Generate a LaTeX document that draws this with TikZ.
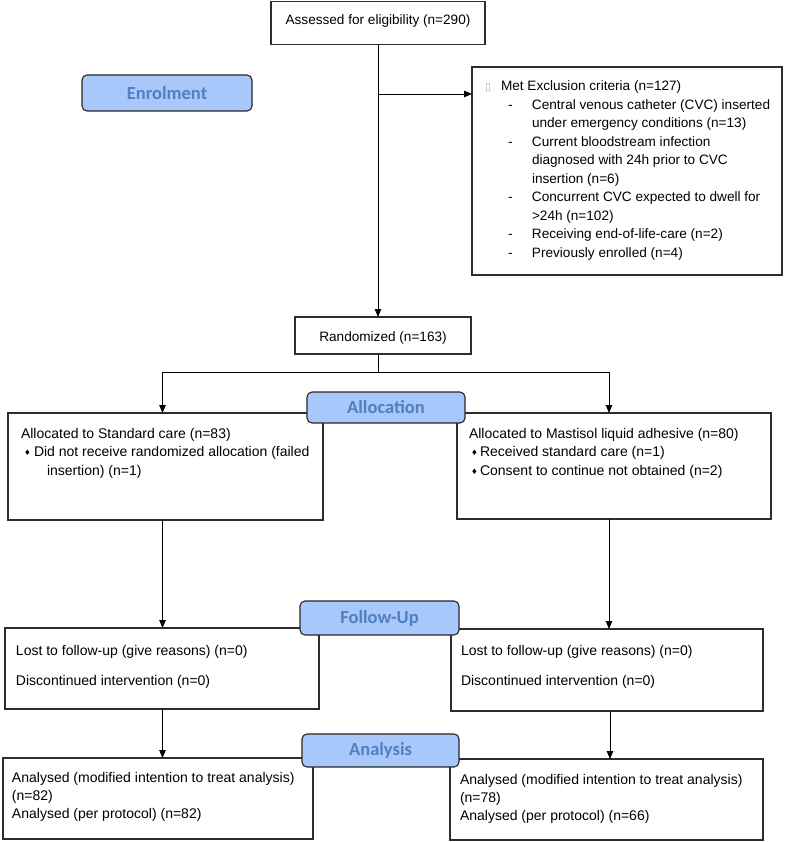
\documentclass[tikz,border=0pt]{standalone}
\usepackage{fontspec}
\setmainfont{Liberation Sans}
\newfontfamily\labfont{Carlito}
\newfontfamily\djv{DejaVu Sans}
\usetikzlibrary{arrows.meta}
\definecolor{labfill}{RGB}{168,199,250}
\definecolor{labtext}{RGB}{80,128,190}
\definecolor{boxline}{RGB}{45,45,45}
\newcommand{\dmd}[1]{\makebox[#1][l]{\raisebox{0.6pt}{\djv\fontsize{7.5}{7.5}\selectfont ♦}}}
\begin{document}
\begin{tikzpicture}[x=1pt,y=-1pt,
  every node/.style={inner sep=0pt, outer sep=0pt},
  flowbox/.style={draw=boxline, line width=1.1pt, fill=white, anchor=north west},
  lab/.style={draw=black!85, line width=1.1pt, fill=labfill, rounded corners=5pt,
    anchor=north west, text=labtext, font=\labfont\bfseries\fontsize{18.5}{20}\selectfont},
  toptxt/.style={anchor=base west, font=\fontsize{13.6}{18.45}\selectfont},
  lowtxt/.style={anchor=base west, font=\fontsize{14}{18.5}\selectfont},
  conn/.style={draw=black, line width=0.9pt, -{Triangle[length=8pt,width=6.5pt]}},
  plain/.style={draw=black, line width=0.9pt}]
\useasboundingbox (0,0) rectangle (800,842);

% ---------- boxes ----------
\node[flowbox, minimum width=214pt, minimum height=43pt] (assess) at (271,1.5) {};
\node[flowbox, minimum width=310pt, minimum height=208pt] (excl) at (472,67) {};
\node[flowbox, minimum width=176pt, minimum height=37pt] (rand) at (295,317) {};
\node[flowbox, minimum width=315pt, minimum height=107pt] (allocL) at (8,413) {};
\node[flowbox, minimum width=314pt, minimum height=106pt] (allocR) at (457,413) {};
\node[flowbox, minimum width=314pt, minimum height=81pt] (fuL) at (5,628) {};
\node[flowbox, minimum width=312pt, minimum height=82pt] (fuR) at (451,629) {};
\node[flowbox, minimum width=310pt, minimum height=81pt] (anL) at (3,758) {};
\node[flowbox, minimum width=313pt, minimum height=81pt] (anR) at (450,759) {};

% ---------- connectors ----------
\coordinate (jx) at (378,94);
\coordinate (split) at (378,372);
\coordinate (cL) at (162.5,372);
\coordinate (cR) at (609,372);
\draw[conn] (assess.south) -- (assess.south |- rand.north);
\draw[conn] (jx) -- (jx -| excl.west);
\draw[plain] (assess.south |- rand.south) -- (split);
\draw[plain] (cL) -- (cR);
\draw[conn] (cL) -- (cL |- allocL.north);
\draw[conn] (cR) -- (cR |- allocR.north);
\draw[conn] (cL |- allocL.south) -- (cL |- fuL.north);
\draw[conn] (cR |- allocR.south) -- (cR |- fuR.north);
\draw[conn] (cL |- fuL.south) -- (cL |- anL.north);
\draw[conn] ([xshift=1pt]cR |- fuR.south) -- ([xshift=1pt]cR |- anR.north);

% ---------- stage labels ----------
\node[lab, minimum width=170pt, minimum height=36pt] (enrol) at (82,75) {Enrolment};
\node[lab, minimum width=158pt, minimum height=31pt] (alloc) at (307,392) {Allocation};
\node[lab, minimum width=159pt, minimum height=34pt] (fu) at (300,601) {Follow-Up};
\node[lab, minimum width=157pt, minimum height=33pt] (an) at (302,734) {Analysis};

% ---------- texts ----------
\node[toptxt, anchor=base] (assesst) at (378,25) {Assessed for eligibility (n=290)};
\node[toptxt, anchor=base] (randt) at (383,341) {Randomized (n=163)};
\node[toptxt] (exclt) at (485,91) {\parbox[t]{295pt}{%
\makebox[16pt][l]{\raisebox{0pt}{\djv\color{black!30}\fontsize{11}{11}\selectfont ▯}}Met Exclusion criteria (n=127)\\
\hspace*{23pt}\makebox[24pt][l]{-}Central venous catheter (CVC) inserted\\
\hspace*{47pt}under emergency conditions (n=13)\\
\hspace*{23pt}\makebox[24pt][l]{-}Current bloodstream infection\\
\hspace*{47pt}diagnosed with 24h prior to CVC\\
\hspace*{47pt}insertion (n=6)\\
\hspace*{23pt}\makebox[24pt][l]{-}Concurrent CVC expected to dwell for\\
\hspace*{47pt}>24h (n=102)\\
\hspace*{23pt}\makebox[24pt][l]{-}Receiving end-of-life-care (n=2)\\
\hspace*{23pt}\makebox[24pt][l]{-}Previously enrolled (n=4)}};

\node[lowtxt] (allocLt) at (21,438) {\parbox[t]{300pt}{%
Allocated to Standard care (n=83)\\
\hspace*{3pt}\dmd{10pt}Did not receive randomized allocation (failed\\
\hspace*{26pt}insertion) (n=1)}};
\node[lowtxt] (allocRt) at (469,438) {\parbox[t]{300pt}{%
Allocated to Mastisol liquid adhesive (n=80)\\
\hspace*{2pt}\dmd{9pt}Received standard care (n=1)\\
\hspace*{2pt}\dmd{9pt}Consent to continue not obtained (n=2)}};

\node[lowtxt, font=\fontsize{14}{30.5}\selectfont] (fuLt) at (16,655) {\parbox[t]{300pt}{%
Lost to follow-up (give reasons) (n=0)\\
Discontinued intervention (n=0)}};
\node[lowtxt, font=\fontsize{14}{30.5}\selectfont] (fuRt) at (461,655) {\parbox[t]{300pt}{%
Lost to follow-up (give reasons) (n=0)\\
Discontinued intervention (n=0)}};

\node[lowtxt, font=\fontsize{14}{18}\selectfont] (anLt) at (12,782.5) {\parbox[t]{300pt}{%
Analysed (modified intention to treat analysis)\\
(n=82)\\
Analysed (per protocol) (n=82)}};
\node[lowtxt, font=\fontsize{14}{18}\selectfont] (anRt) at (460,784) {\parbox[t]{300pt}{%
Analysed (modified intention to treat analysis)\\
(n=78)\\
Analysed (per protocol) (n=66)}};
\end{tikzpicture}
\end{document}
